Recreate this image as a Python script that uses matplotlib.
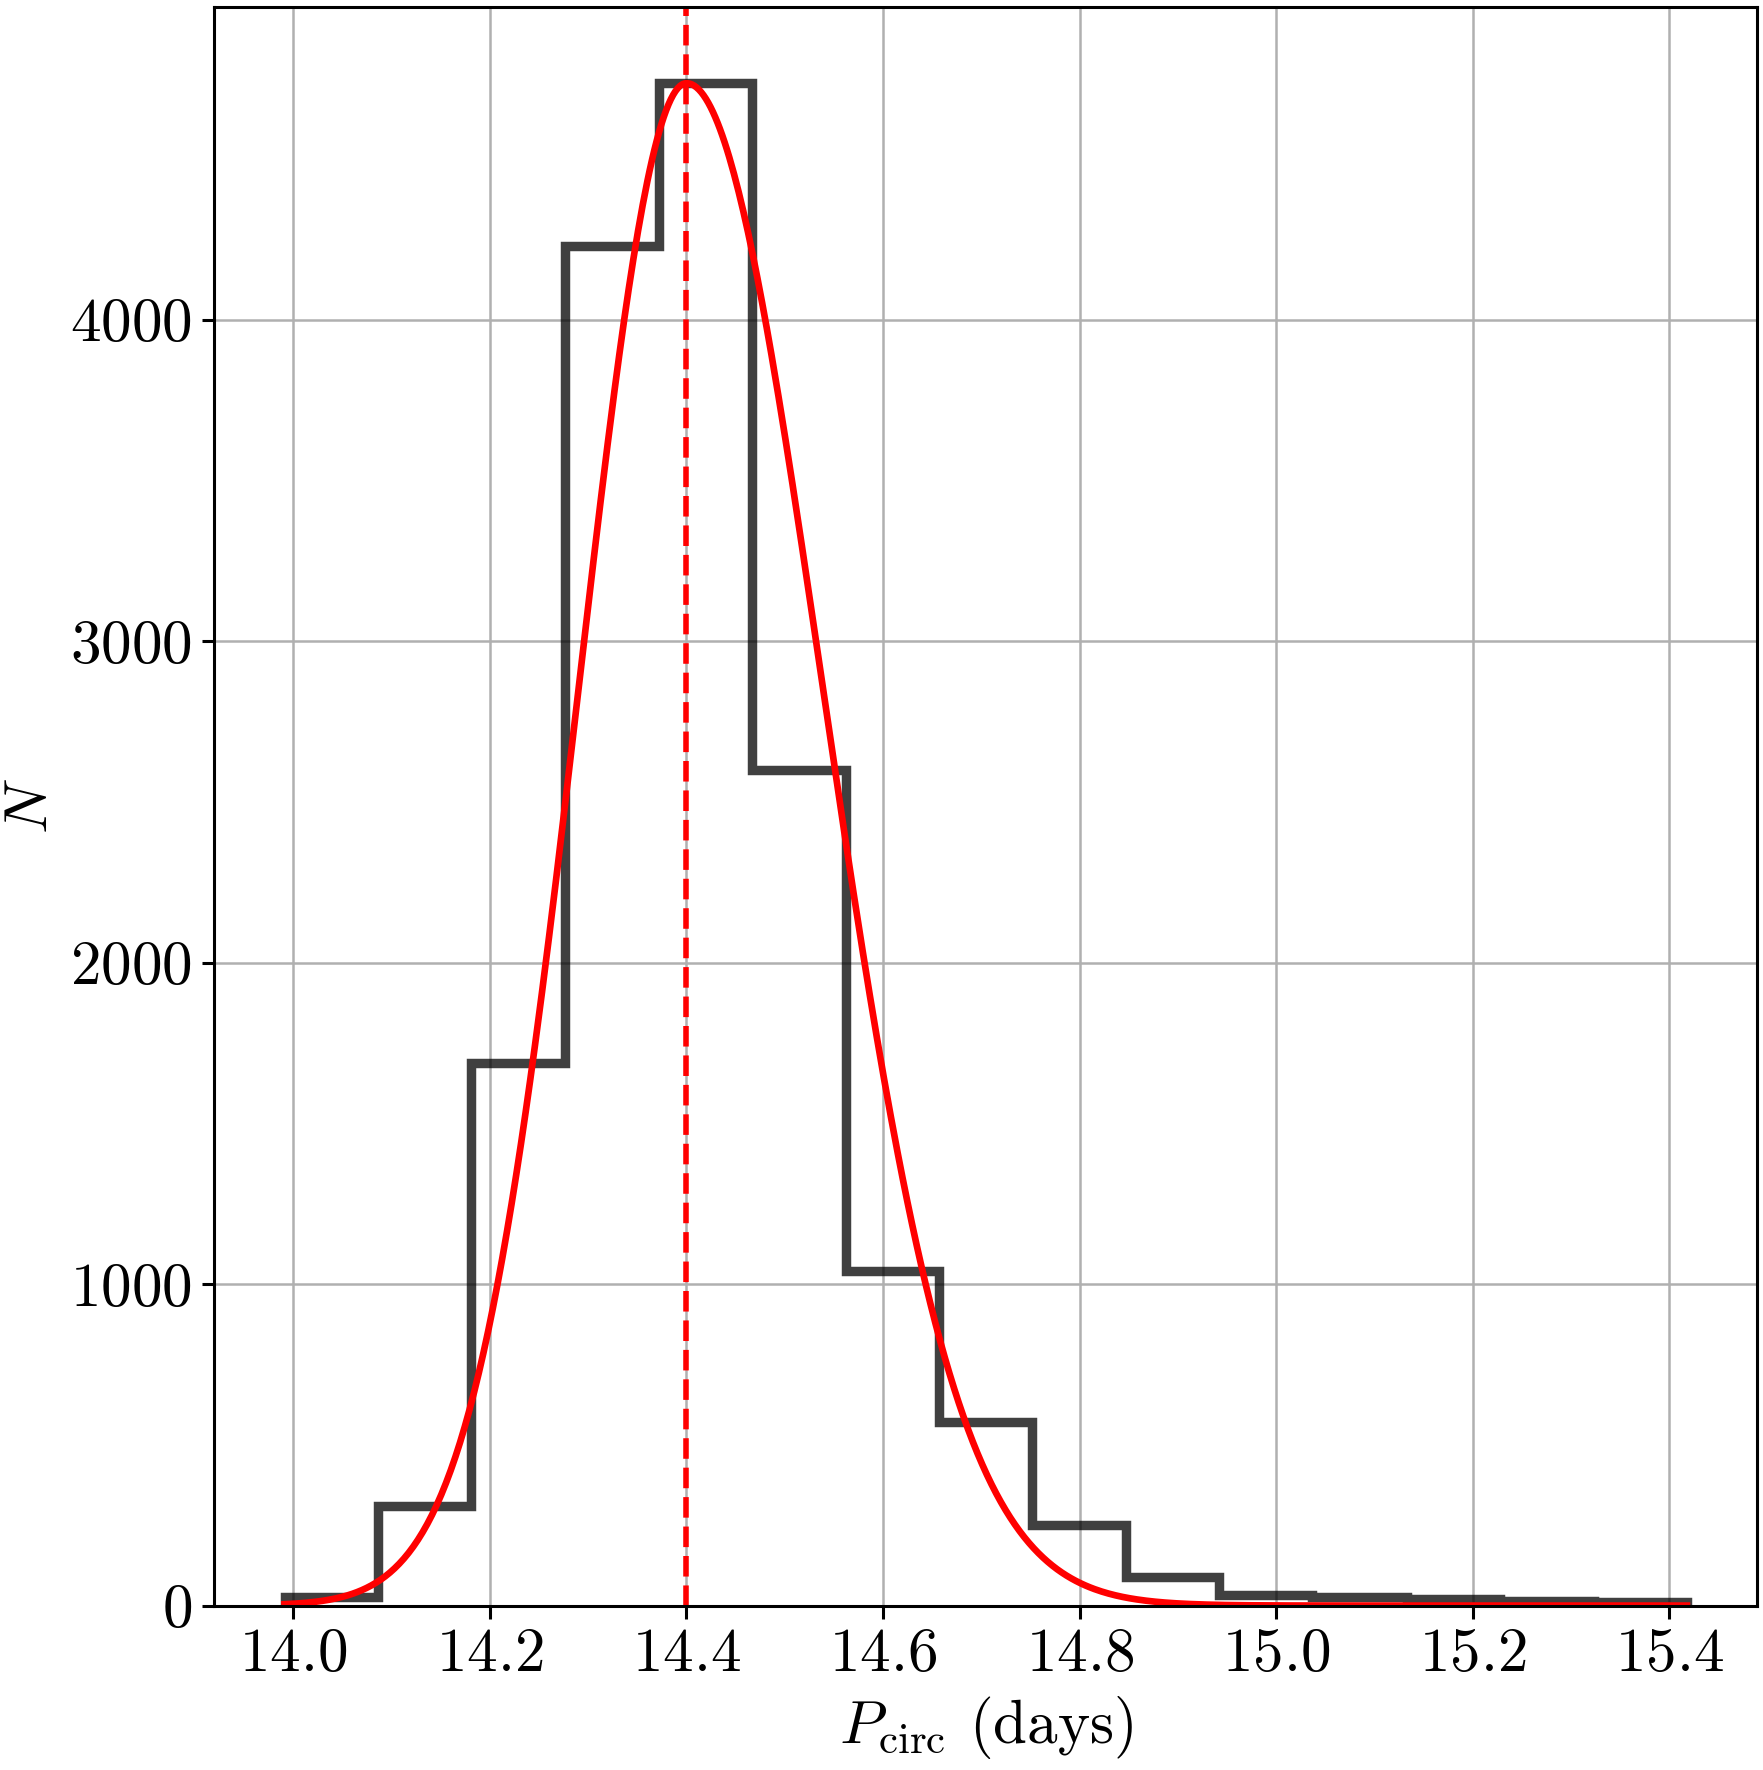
import numpy as np
import matplotlib
matplotlib.use("Agg")
import matplotlib.pyplot as plt

plt.rcParams['font.family'] = 'serif'
plt.rcParams['font.serif'] = ['cmr10']
plt.rcParams['mathtext.fontset'] = 'cm'
plt.rcParams['axes.formatter.use_mathtext'] = True

# histogram of P_circ samples
bin_edges = [13.991, 14.086, 14.181, 14.276, 14.372, 14.467, 14.562, 14.657,
             14.752, 14.847, 14.942, 15.037, 15.133, 15.228, 15.323, 15.418]
counts = [28, 310, 1686, 4230, 4735, 2598, 1040, 570,
          251, 90, 34, 27, 21, 15, 10]

# asymmetric gaussian overlay: peak, left/right widths, amplitude
p_best = 14.40
sig_lo = 0.109
sig_hi = 0.138
amp = 4735

centers = [(a + b) / 2 for a, b in zip(bin_edges[:-1], bin_edges[1:])]

fig = plt.figure(figsize=(8.815, 8.85), dpi=200)
ax = fig.add_axes([0.1216, 0.0929, 0.875, 0.9031])

ax.hist(centers, bins=bin_edges, weights=counts, histtype='step',
        color='black', alpha=0.75, lw=3.4)

xx = np.linspace(bin_edges[0], bin_edges[-1], 600)
sig = np.where(xx < p_best, sig_lo, sig_hi)
ax.plot(xx, amp * np.exp(-0.5 * ((xx - p_best) / sig) ** 2), color='red', lw=2.4)
ax.axvline(p_best, color='red', ls='--', lw=2)

ax.grid(True, color='#b0b0b0', lw=0.9)
ax.set_xticks([14.0, 14.2, 14.4, 14.6, 14.8, 15.0, 15.2, 15.4])
ax.set_yticks([0, 1000, 2000, 3000, 4000])
ax.tick_params(labelsize=22, length=4.5, width=1.1)
for s in ax.spines.values():
    s.set_linewidth(1.1)

ax.set_xlabel(r'$P_{\rm circ}$ (days)', fontsize=22, labelpad=4)
ax.set_ylabel(r'$N$', fontsize=22)

fig.savefig('out.png', dpi=200)
